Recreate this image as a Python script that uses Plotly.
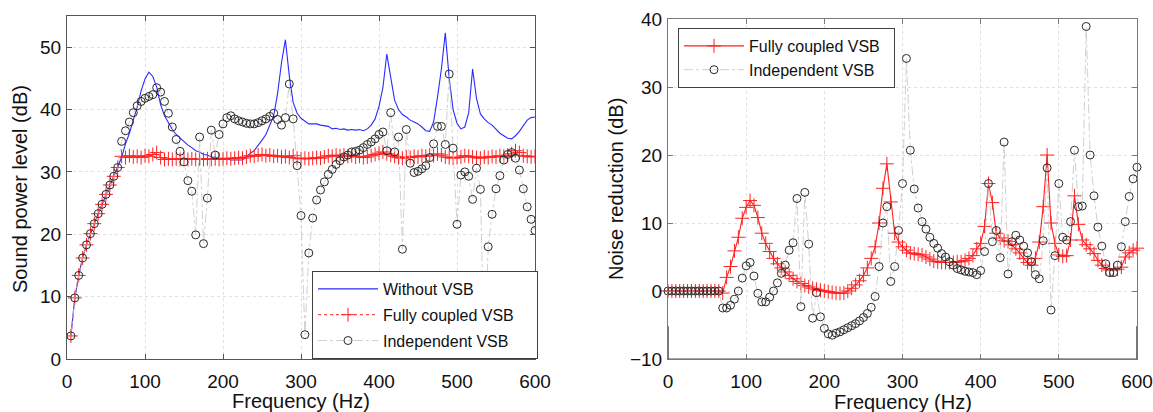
import numpy as np
import plotly.graph_objects as go

# ---------------- data ----------------
freq_spl = list(range(5, 601, 5))      # 5 ... 600 Hz
freq_nr = list(range(0, 601, 5))       # 0 ... 600 Hz

without_vsb = [
    3.7, 9.8, 13.4, 16.2, 18.3, 20.1, 21.7, 23.3, 24.8, 26.4, 27.9, 29.3, 30.7,
    32.3, 34.5, 36.2, 38.3, 40.4, 43.0, 44.9, 46.0, 45.3, 43.6, 40.8, 39.0, 37.8,
    36.8, 36.0, 35.4, 34.9, 34.3, 33.9, 33.4, 33.2, 32.8, 32.7, 32.4, 32.35, 32.1,
    32.1, 32.1, 31.9, 31.9, 31.95, 31.9, 32.4, 33.0, 33.4, 34.2, 35.1, 36.0, 37.5,
    39.0, 42.6, 47.5, 51.2, 45.4, 41.1, 39.4, 38.6, 38.2, 37.7, 37.7, 37.7, 37.5,
    37.4, 37.3, 36.9, 37.0, 36.8, 36.9, 36.7, 36.8, 36.7, 36.8, 36.6, 36.9, 37.5,
    38.5, 40.5, 43.5, 48.9, 45.0, 41.5, 40.0, 39.2, 38.8, 38.3, 38.0, 37.7, 37.2,
    36.6, 36.5, 38.0, 42.0, 46.5, 52.3, 45.0, 40.0, 37.8, 36.9, 37.2, 39.5, 46.5,
    41.8, 39.3, 38.5, 37.9, 37.5, 36.9, 36.2, 35.8, 35.4, 35.3, 35.8, 36.5, 37.4,
    38.3, 38.7, 38.8,
]

fully_coupled_spl = [
    3.7, 9.8, 13.4, 16.2, 18.3, 20.1, 21.7, 23.3, 24.8, 26.4, 27.9, 29.3, 30.7,
    32.5, 32.3, 32.6, 32.4, 32.5, 32.3, 32.6, 32.5, 32.8, 33.1, 32.3, 32.0, 32.1,
    32.0, 32.1, 32.0, 32.1, 32.0, 32.1, 32.0, 32.1, 32.0, 32.1, 32.0, 32.1, 32.0,
    32.1, 32.2, 32.1, 32.2, 32.3, 32.2, 32.4, 32.6, 32.5, 32.7, 32.8, 32.6, 32.7,
    32.5, 32.6, 32.4, 32.5, 32.3, 32.6, 32.2, 32.1, 32.2, 32.1, 32.2, 32.3, 32.2,
    32.4, 32.6, 32.5, 32.7, 32.6, 32.7, 32.5, 32.6, 32.4, 32.5, 32.3, 32.4, 32.6,
    32.8, 33.0, 33.2, 32.9, 32.7, 32.5, 32.3, 32.2, 32.4, 32.3, 32.5, 32.4, 32.6,
    32.5, 32.7, 32.6, 32.9, 32.7, 32.4, 32.3, 32.2, 32.3, 32.4, 32.6, 32.5, 32.4,
    32.3, 32.2, 32.4, 32.3, 32.5, 32.4, 32.6, 32.5, 32.7, 32.9, 33.4, 33.1, 32.6,
    32.5, 32.4, 32.5,
]

independent_spl = [
    3.7, 9.8, 13.4, 16.2, 18.3, 20.1, 21.7, 23.3, 24.8, 26.4, 27.9, 29.3, 30.7,
    34.9, 36.6, 38.0, 39.5, 40.6, 41.3, 41.8, 42.1, 42.4, 43.5, 42.8, 41.3, 39.4,
    37.2, 35.2, 33.3, 31.6, 28.6, 26.9, 19.9, 35.6, 18.5, 25.8, 36.7, 32.7, 36.0,
    37.7, 38.7, 39.0, 38.5, 38.2, 38.0, 37.8, 37.7, 37.7, 37.9, 38.2, 38.5, 38.9,
    39.4, 38.4, 37.5, 38.7, 44.1, 38.5, 31.0, 23.0, 3.9, 17.0, 22.6, 25.5, 27.1,
    28.4, 29.6, 30.4, 31.2, 31.8, 32.4, 32.7, 33.2, 33.3, 33.5, 33.9, 34.4, 34.8,
    35.3, 36.0, 36.4, 33.4, 39.5, 33.2, 35.6, 17.6, 36.8, 31.4, 29.9, 30.1, 30.5,
    31.0, 32.3, 34.5, 37.3, 37.3, 34.4, 45.7, 33.8, 21.6, 29.5, 30.0, 29.3, 25.6,
    30.6, 27.2, -0.4, 18.0, 23.2, 27.3, 29.4, 31.9, 32.8, 33.1, 32.2, 30.3, 27.3,
    24.4, 22.4, 20.6,
]

fully_coupled_nr = [
    0, 0, 0, 0, 0, 0, 0, 0, 0, 0, 0, 0, 0, 0,
    -0.3, 2.0, 3.6, 5.9, 7.9, 10.7, 12.3, 13.3, 12.6, 10.8, 8.5, 7.0, 5.8, 4.8,
    4.0, 3.4, 2.8, 2.3, 1.8, 1.4, 1.1, 0.8, 0.6, 0.4, 0.25, 0.1, 0.0, -0.1, -0.2,
    -0.3, -0.35, -0.3, 0.0, 0.4, 0.9, 1.5, 2.3, 3.4, 4.8, 6.5, 10.0, 15.1, 18.7,
    13.1, 8.5, 7.2, 6.5, 6.0, 5.6, 5.5, 5.4, 5.3, 5.0, 4.7, 4.4, 4.3, 4.2, 4.2,
    4.2, 4.2, 4.3, 4.3, 4.5, 4.8, 5.2, 6.2, 7.0, 9.5, 15.8, 13.0, 8.5, 7.8, 7.4,
    7.3, 6.8, 6.2, 5.6, 4.8, 4.2, 3.8, 4.8, 7.2, 12.4, 20.0, 10.0, 7.0, 5.3, 5.1,
    5.2, 7.5, 14.0, 9.8, 7.5, 6.8, 6.2, 5.5, 4.5, 3.8, 3.3, 3.1, 3.1, 3.2, 3.5,
    5.0, 5.6, 6.0, 6.3,
]

independent_nr = [
    0, 0, 0, 0, 0, 0, 0, 0, 0, 0, 0, 0, 0, 0,
    -2.5, -2.5, -2.1, -1.2, 0.0, 1.9, 3.7, 4.2, 2.2, -0.35, -1.6, -1.6, -0.9, 0.0,
    1.2, 2.6, 3.8, 6.0, 7.1, 13.6, -2.3, 14.5, 6.9, -4.0, -0.25, -3.8, -5.5, -6.3,
    -6.5, -6.2, -6.0, -5.7, -5.4, -5.1, -4.8, -4.4, -3.9, -3.3, -2.4, -0.8, 3.6,
    10.0, 12.4, 1.4, 3.6, 8.9, 15.8, 34.2, 20.7, 15.0, 12.2, 10.2, 9.1, 7.9, 7.0,
    6.3, 5.5, 5.0, 4.3, 3.8, 3.3, 3.1, 2.9, 2.8, 2.7, 2.4, 3.0, 5.8, 15.8, 7.25,
    8.9, 4.9, 21.9, 2.5, 7.25, 8.2, 7.5, 6.6, 5.6, 4.3, 2.4, 1.8, 7.4, 18.1, -2.8,
    5.2, 15.8, 7.9, 7.5, 10.2, 20.7, 12.4, 12.5, 38.9, 20.0, 14.0, 9.4, 6.6, 4.0,
    2.7, 2.7, 3.8, 6.5, 10.2, 13.9, 16.5, 18.2,
]

x_ticks = [0, 100, 200, 300, 400, 500, 600]
spl_ticks = [0, 10, 20, 30, 40, 50]
nr_ticks = [-10, 0, 10, 20, 30, 40]

# ---------------- figure ----------------
W, H = 1153, 412
FONT = "Liberation Sans, Arial, sans-serif"
BLUE = "#2b2bff"
RED = "#ff2020"
GREY_LINE = "#c4c4c4"
CIRC = "#2a2a2a"
NB = "\u00a0"

fig = go.Figure()

fig.add_trace(go.Scatter(
    x=freq_spl, y=without_vsb, mode="lines", name="Without VSB",
    line=dict(color=BLUE, width=1.1), xaxis="x", yaxis="y",
    legend="legend", legendgroup="a"))
fig.add_trace(go.Scatter(
    x=freq_spl, y=fully_coupled_spl, mode="lines+markers",
    name="Fully coupled VSB" + NB * 4,
    line=dict(color=RED, width=1, dash="dot"),
    marker=dict(symbol="cross-thin-open", size=10, line=dict(color=RED, width=1)),
    xaxis="x", yaxis="y", legend="legend", legendgroup="b"))
fig.add_trace(go.Scatter(
    x=freq_spl, y=independent_spl, mode="lines+markers", name="Independent VSB",
    line=dict(color=GREY_LINE, width=0.8, dash="dashdot"),
    marker=dict(symbol="circle-open", size=8, color=CIRC, line=dict(color=CIRC, width=1)),
    xaxis="x", yaxis="y", legend="legend", legendgroup="c"))

fig.add_trace(go.Scatter(
    x=freq_nr, y=fully_coupled_nr, mode="lines+markers",
    name="Fully coupled VSB" + NB * 2,
    line=dict(color=RED, width=1.1),
    marker=dict(symbol="cross-thin-open", size=10, line=dict(color=RED, width=1)),
    cliponaxis=False, xaxis="x2", yaxis="y2", legend="legend2"))
fig.add_trace(go.Scatter(
    x=freq_nr, y=independent_nr, mode="lines+markers", name="Independent VSB",
    line=dict(color=GREY_LINE, width=0.8, dash="dashdot"),
    marker=dict(symbol="circle-open", size=8, color=CIRC, line=dict(color=CIRC, width=1)),
    cliponaxis=False, xaxis="x2", yaxis="y2", legend="legend2"))

def px_x(p):
    return p / W

def px_y(p):
    return (H - p) / H

axis_common = dict(
    showline=True, linewidth=1, mirror="ticks",
    ticks="inside", ticklen=5,
    showgrid=True, gridcolor="#e0e0e0", griddash="dot", gridwidth=1,
    zeroline=False, automargin=False,
    tickfont=dict(family=FONT, size=19, color="#111"),
)
LEFT_FRAME = "#555555"
RIGHT_FRAME = "#7a7a7a"

fig.update_layout(
    width=W, height=H,
    margin=dict(l=0, r=0, t=0, b=0, autoexpand=False),
    paper_bgcolor="white", plot_bgcolor="white",
    font=dict(family=FONT, color="#111"),
    xaxis=dict(domain=[px_x(67), px_x(535)], range=[0, 600], tickvals=x_ticks,
               anchor="y", ticklabelstandoff=5, linecolor=LEFT_FRAME,
               tickcolor=LEFT_FRAME, **axis_common),
    yaxis=dict(domain=[px_y(359), px_y(16)], range=[0, 55], tickvals=spl_ticks,
               anchor="x", ticklabelstandoff=1, linecolor=LEFT_FRAME,
               tickcolor=LEFT_FRAME, **axis_common),
    xaxis2=dict(domain=[px_x(668), px_x(1137)], range=[0, 600], tickvals=x_ticks,
                anchor="y2", ticklabelstandoff=5, linecolor=RIGHT_FRAME,
                tickcolor=RIGHT_FRAME, **axis_common),
    yaxis2=dict(domain=[px_y(359), px_y(19)], range=[-10, 40], tickvals=nr_ticks,
                anchor="x2", ticklabelstandoff=1, linecolor=RIGHT_FRAME,
                tickcolor=RIGHT_FRAME, **axis_common),
    legend=dict(x=px_x(312), y=px_y(271), xanchor="left", yanchor="top",
                bgcolor="white", bordercolor="#404040", borderwidth=1,
                font=dict(family=FONT, size=16, color="#111"),
                itemwidth=60, tracegroupgap=2),
    legend2=dict(x=px_x(678), y=px_y(28), xanchor="left", yanchor="top",
                 bgcolor="white", bordercolor="#404040", borderwidth=1,
                 font=dict(family=FONT, size=16, color="#111"),
                 itemwidth=60, tracegroupgap=0),
    showlegend=True,
)

# darker lower part of the right panel's frame, as in the reference
frame_dark = "#1a1a1a"
fig.add_shape(type="line", xref="x2", yref="y2", x0=0, x1=0, y0=-10, y1=-5.2,
              line=dict(color=frame_dark, width=1.2))
fig.add_shape(type="line", xref="x2", yref="y2", x0=600, x1=600, y0=-10, y1=-5.2,
              line=dict(color=frame_dark, width=1.2))
fig.add_shape(type="line", xref="x2", yref="y2", x0=0, x1=600, y0=-10, y1=-10,
              line=dict(color="#444444", width=1))

ann = [
    dict(text="Sound power level (dB)", x=px_x(20), y=px_y(189), textangle=-90),
    dict(text="Noise reduction (dB)", x=px_x(616), y=px_y(189), textangle=-90),
    dict(text="Frequency (Hz)", x=px_x(301), y=px_y(401), textangle=0),
    dict(text="Frequency (Hz)", x=px_x(903), y=px_y(402), textangle=0),
]
fig.update_layout(annotations=[
    dict(xref="paper", yref="paper", showarrow=False, xanchor="center", yanchor="middle",
         font=dict(family=FONT, size=20, color="#111"), **a) for a in ann
])

fig.write_html("out.html",
               config={"displayModeBar": False},
               post_script="document.body.style.margin='0px';"
                           "document.body.style.overflow='hidden';")
